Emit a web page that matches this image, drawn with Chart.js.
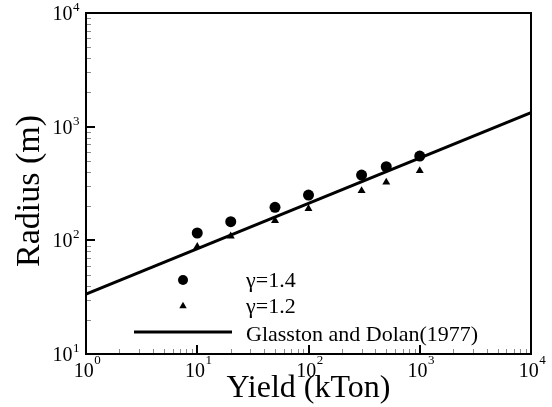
<!DOCTYPE html>
<html>
<head>
<meta charset="utf-8">
<script src="https://cdn.jsdelivr.net/npm/chart.js@4/dist/chart.umd.min.js"></script>
<style>
  html, body { margin: 0; padding: 0; background: #fff; }
</style>
</head>
<body>
<canvas id="blastChart" width="552" height="407"></canvas>
<script>
// yield in kTon and fireball radius in metres
const yieldKt = [10, 20, 50, 100, 300, 500, 1000];
const radiusGamma14 = [116, 146, 195, 250, 375, 444, 551];
const radiusGamma12 = [88, 109, 149, 190, 273, 324, 409];
const glasstonYield = [1, 10000];
const glasstonRadius = [33.7, 1330];

const xExponents = [0, 1, 2, 3, 4];
const yExponents = [1, 2, 3, 4];
const legendLabels = ["γ=1.4", "γ=1.2", "Glasston and Dolan(1977)"];
const xTitle = "Yield (kTon)";
const yTitle = "Radius (m)";

const serif = '"Liberation Serif", "Times New Roman", serif';

function toPoints(xs, ys) {
	return xs.map((x, i) => ({ x: x, y: ys[i] }));
}

function triangle(ctx, x, y, r) {
	ctx.beginPath();
	ctx.moveTo(x, y - r);
	ctx.lineTo(x + Math.sin(2 * Math.PI / 3) * r, y + r / 2);
	ctx.lineTo(x - Math.sin(2 * Math.PI / 3) * r, y + r / 2);
	ctx.closePath();
	ctx.fill();
}

// "10" with a superscript exponent
function powerLabel(ctx, exp, x, baseY, supY, align) {
	ctx.font = "20px " + serif;
	const wBase = ctx.measureText("10").width;
	ctx.font = "13px " + serif;
	const wExp = ctx.measureText(String(exp)).width;
	let left = x;
	if (align === "center") left = x - (wBase + wExp) / 2;
	if (align === "right") left = x - wBase - wExp;
	ctx.textAlign = "left";
	ctx.textBaseline = "alphabetic";
	ctx.font = "20px " + serif;
	ctx.fillText("10", left, baseY);
	ctx.font = "13px " + serif;
	ctx.fillText(String(exp), left + wBase + 0.5, supY);
}

const framePlugin = {
	id: "frame",
	afterDraw(chart) {
		const ctx = chart.ctx;
		const area = chart.chartArea;
		const xs = chart.scales.x;
		const ys = chart.scales.y;
		ctx.save();
		ctx.fillStyle = "#000";

		// minor ticks
		ctx.strokeStyle = "#8a8a8a";
		ctx.lineWidth = 1;
		ctx.beginPath();
		for (let d = 0; d < 4; d++) {
			for (let k = 2; k <= 9; k++) {
				const px = Math.round(xs.getPixelForValue(k * Math.pow(10, d))) + 0.5;
				ctx.moveTo(px, area.bottom);
				ctx.lineTo(px, area.bottom - 5);
			}
		}
		for (let d = 1; d < 4; d++) {
			for (let k = 2; k <= 9; k++) {
				const py = Math.round(ys.getPixelForValue(k * Math.pow(10, d))) + 0.5;
				ctx.moveTo(area.left, py);
				ctx.lineTo(area.left + 5, py);
			}
		}
		ctx.stroke();

		// major ticks
		ctx.strokeStyle = "#000";
		ctx.lineWidth = 2;
		ctx.beginPath();
		xExponents.forEach(e => {
			const px = Math.round(xs.getPixelForValue(Math.pow(10, e)));
			ctx.moveTo(px, area.bottom);
			ctx.lineTo(px, area.bottom - 9);
		});
		yExponents.forEach(e => {
			const py = Math.round(ys.getPixelForValue(Math.pow(10, e)));
			ctx.moveTo(area.left, py);
			ctx.lineTo(area.left + 9, py);
		});
		ctx.stroke();

		// frame
		ctx.lineWidth = 2;
		ctx.strokeRect(area.left, area.top, area.right - area.left, area.bottom - area.top);

		// tick labels
		xExponents.forEach(e => {
			const px = xs.getPixelForValue(Math.pow(10, e));
			powerLabel(ctx, e, px + 1, area.bottom + 23, area.bottom + 10, "center");
		});
		yExponents.forEach(e => {
			const py = ys.getPixelForValue(Math.pow(10, e));
			powerLabel(ctx, e, area.left - 7, py + 7, py - 2, "right");
		});

		// axis titles
		ctx.font = "32px " + serif;
		ctx.textAlign = "center";
		ctx.textBaseline = "alphabetic";
		ctx.fillText(xTitle, (area.left + area.right) / 2, 397);
		ctx.save();
		ctx.translate(39, 191);
		ctx.rotate(-Math.PI / 2);
		ctx.font = "34px " + serif;
		ctx.fillText(yTitle, 0, 0);
		ctx.restore();

		// legend
		ctx.beginPath();
		ctx.arc(183, 280, 5, 0, 2 * Math.PI);
		ctx.fill();
		triangle(ctx, 183, 306, 4.3);
		ctx.lineWidth = 3;
		ctx.beginPath();
		ctx.moveTo(134, 332);
		ctx.lineTo(232, 332);
		ctx.stroke();
		ctx.font = "22px " + serif;
		ctx.textAlign = "left";
		ctx.fillText(legendLabels[0], 246, 287);
		ctx.fillText(legendLabels[1], 246, 313);
		ctx.fillText(legendLabels[2], 246, 341);

		ctx.restore();
	}
};

new Chart(document.getElementById("blastChart"), {
	type: "scatter",
	data: {
		datasets: [
			{
				label: legendLabels[0],
				data: toPoints(yieldKt, radiusGamma14),
				pointStyle: "circle",
				pointRadius: 5.5,
				backgroundColor: "#000",
				borderWidth: 0,
				order: 2
			},
			{
				label: legendLabels[1],
				data: toPoints(yieldKt, radiusGamma12),
				pointStyle: "triangle",
				pointRadius: 4.6,
				backgroundColor: "#000",
				borderWidth: 0,
				order: 1
			},
			{
				label: legendLabels[2],
				data: toPoints(glasstonYield, glasstonRadius),
				showLine: true,
				pointRadius: 0,
				borderColor: "#000",
				borderWidth: 3,
				order: 0
			}
		]
	},
	options: {
		responsive: false,
		animation: false,
		devicePixelRatio: 1,
		layout: { padding: { left: 86, right: 21, top: 13, bottom: 53 } },
		plugins: {
			legend: { display: false },
			tooltip: { enabled: true }
		},
		scales: {
			x: { type: "logarithmic", min: 1, max: 10000, display: false },
			y: { type: "logarithmic", min: 10, max: 10000, display: false }
		}
	},
	plugins: [framePlugin]
});
</script>
</body>
</html>
